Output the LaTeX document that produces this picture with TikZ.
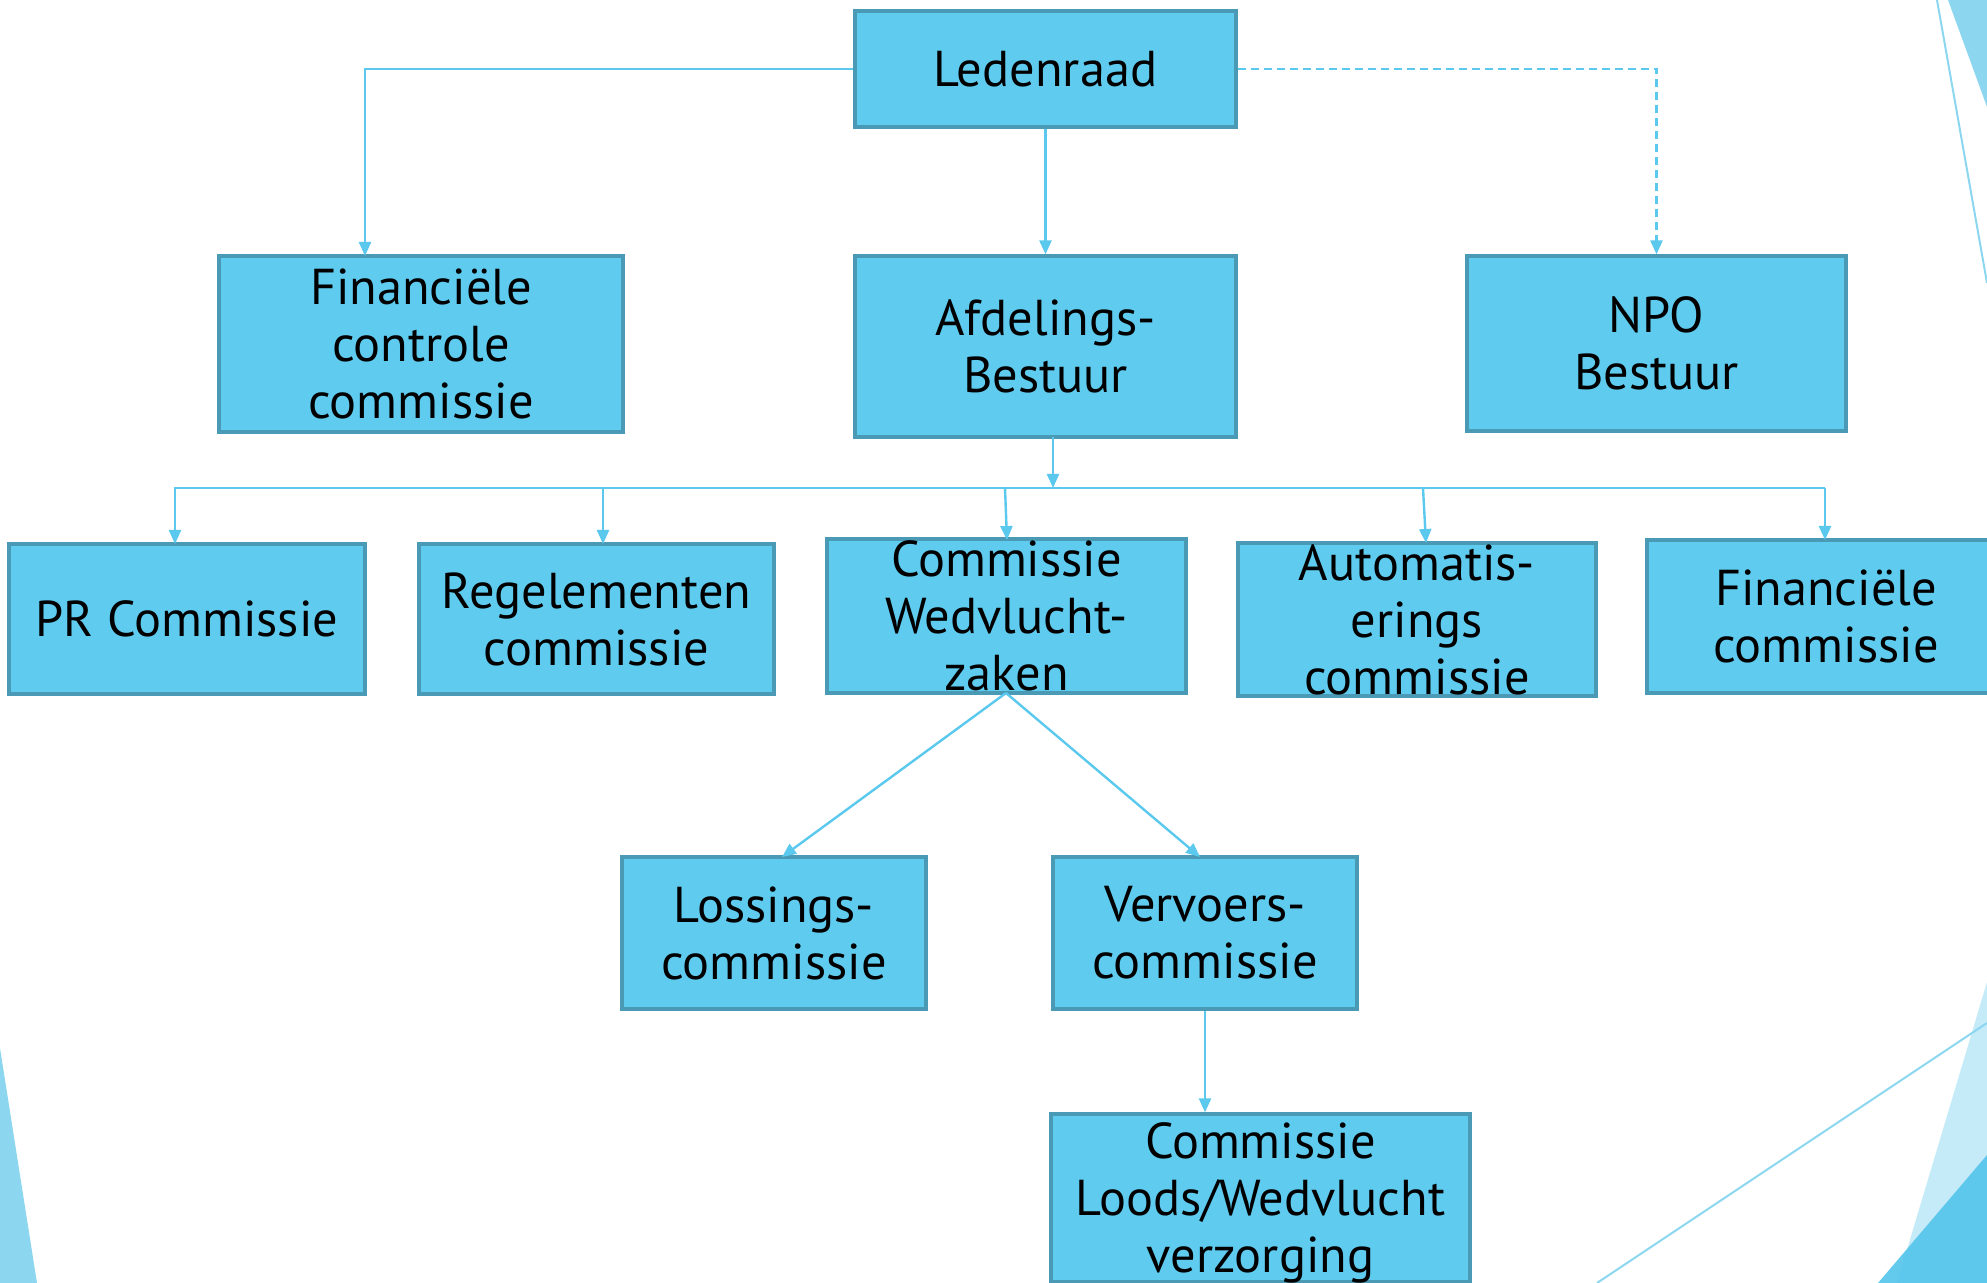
\documentclass[tikz,border=0pt]{standalone}
\usepackage{fontspec}
\setmainfont{PT Sans}
\usetikzlibrary{arrows.meta}
\definecolor{boxfill}{HTML}{5ECBEF}
\definecolor{boxline}{HTML}{4A9AB5}
\definecolor{connc}{HTML}{5BC8EE}
\definecolor{decoA}{HTML}{8DD6F0}
\definecolor{decoB}{HTML}{C5EBF8}
\definecolor{decoC}{HTML}{56C5EC}
\tikzset{
  orgbox/.style={draw=boxline, fill=boxfill, line width=1.6pt, rectangle, inner sep=0pt,
    align=center, text=black, font=\fontsize{25.2}{28.5}\selectfont},
  conn/.style={draw=connc, line width=1.2pt, -{Triangle[length=7pt,width=6pt]}},
  plain/.style={draw=connc, line width=1.2pt},
  dashconn/.style={conn, dash pattern=on 4pt off 2.5pt},
}
\begin{document}
\begin{tikzpicture}[x=0.5pt,y=-0.5pt]
\useasboundingbox (0,0) rectangle (1987,1283);
\clip (0,0) rectangle (1987,1283);
% decorations
\fill[decoA] (1948,0) -- (1987,0) -- (1987,107) -- cycle;
\draw[decoA, line width=1pt] (1937,0) -- (1987,283);
\fill[decoA] (0,1048) -- (37,1283) -- (0,1283) -- cycle;
\fill[decoB] (1987,982) -- (1897,1283) -- (1987,1283) -- cycle;
\fill[decoC, opacity=0.92] (1987,1155) -- (1878,1283) -- (1987,1283) -- cycle;
\draw[decoA, line width=1pt] (1597,1283) -- (1987,1023);

% boxes
\node[orgbox, minimum width=190.5pt, minimum height=58pt] (led) at (1045.5,69) {Ledenraad};
\node[orgbox, minimum width=202pt, minimum height=88pt] (fcc) at (421,344) {Financiële\\controle\\commissie};
\node[orgbox, minimum width=190.5pt, minimum height=90.5pt] (afd) at (1045.5,346.5) {Afdelings-\\Bestuur};
\node[orgbox, minimum width=189.5pt, minimum height=87.5pt] (npo) at (1656.5,343.5) {NPO\\Bestuur};
\node[orgbox, minimum width=178pt, minimum height=75pt] (pr) at (187,619) {PR Commissie};
\node[orgbox, minimum width=177.5pt, minimum height=75pt] (reg) at (596.5,619) {Regelementen\\commissie};
\node[orgbox, minimum width=179.5pt, minimum height=77pt] (cw) at (1006.5,616) {Commissie\\Wedvlucht-\\zaken};
\node[orgbox, minimum width=179pt, minimum height=76.5pt] (aut) at (1417,619.5) {Automatis-\\erings\\commissie};
\node[orgbox, minimum width=179pt, minimum height=76.5pt] (fin) at (1826,616.5) {Financiële\\commissie};
\node[orgbox, minimum width=152pt, minimum height=76pt] (los) at (774,933) {Lossings-\\commissie};
\node[orgbox, minimum width=152pt, minimum height=76pt] (ver) at (1205,933) {Vervoers-\\commissie};
\node[orgbox, minimum width=209.5pt, minimum height=84pt, text depth=-6pt] (lds) at (1260.5,1198) {Commissie\\Loods/Wedvlucht\\verzorging};

% helper coordinates
\coordinate (fccin) at (365,256);
\coordinate (afdout) at (1053,437);
\coordinate (busL) at (174,488);
\coordinate (busR) at (1825,488);
\coordinate (busM) at (1053,488);
\coordinate (bPR) at (175,488);
\coordinate (bREG) at (603,488);
\coordinate (bCW) at (1005,488);
\coordinate (bAUT) at (1423,488);
\coordinate (iPR) at (175,544);
\coordinate (iREG) at (603,544);
\coordinate (iCW) at (1007,540);
\coordinate (iAUT) at (1426,543);
\coordinate (iFIN) at (1825,540);
\coordinate (cwout) at (1006,693);
\coordinate (iLOS) at (782,857);
\coordinate (iVER) at (1200,857);

% connectors
\draw[conn] (led.west) -| (fccin);
\draw[conn] (led.south) -- (afd.north);
\draw[dashconn] (led.east) -| (npo.north);
\draw[conn] (afdout) -- (busM);
\draw[plain] (busL) -- (busR);
\draw[conn] (bPR) -- (iPR);
\draw[conn] (bREG) -- (iREG);
\draw[conn] (bCW) -- (iCW);
\draw[conn] (bAUT) -- (iAUT);
\draw[conn] (busR) -- (iFIN);
\draw[conn] (cwout) -- (iLOS);
\draw[conn] (cwout) -- (iVER);
\draw[conn] (ver.south) -- (lds.north -| ver.south);
\end{tikzpicture}
\end{document}
